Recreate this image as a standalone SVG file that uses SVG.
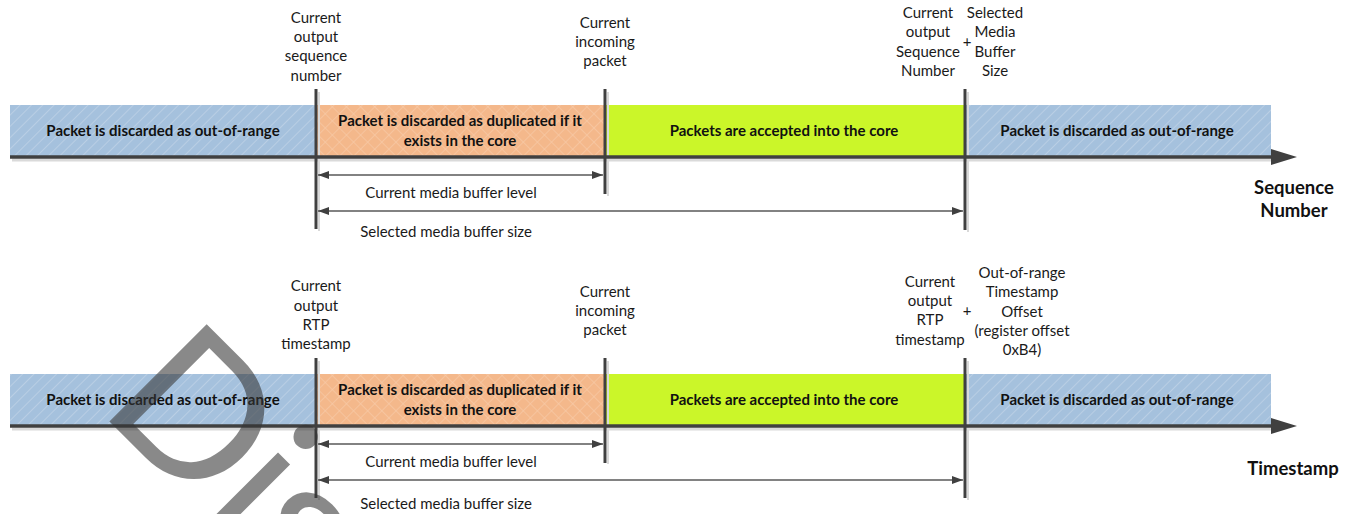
<svg xmlns="http://www.w3.org/2000/svg" width="1354" height="514" viewBox="0 0 1354 514">
<defs>
  <pattern id="hatchBlue" width="8" height="8" patternUnits="userSpaceOnUse" patternTransform="rotate(45)">
    <rect width="8" height="8" fill="#A5C1DD"/>
    <line x1="0" y1="0" x2="0" y2="8" stroke="#B9CEE4" stroke-width="2"/>
  </pattern>
  <pattern id="hatchOrange" width="10" height="10" patternUnits="userSpaceOnUse" patternTransform="rotate(45)">
    <rect width="10" height="10" fill="#F4B88B"/>
    <line x1="0" y1="0" x2="0" y2="10" stroke="#F8CBA8" stroke-width="1.3"/>
    <line x1="0" y1="0" x2="10" y2="0" stroke="#F8CBA8" stroke-width="1.3"/>
  </pattern>
  <marker id="ah" viewBox="0 0 11 8" refX="11" refY="4" markerWidth="11" markerHeight="8" markerUnits="userSpaceOnUse" orient="auto-start-reverse">
    <path d="M0,0 L11,4 L0,8 z" fill="#404040"/>
  </marker>
  <marker id="axisHead" viewBox="0 0 26 16" refX="2" refY="8" markerWidth="26" markerHeight="16" markerUnits="userSpaceOnUse" orient="auto">
    <path d="M0,0 L26,8 L0,16 z" fill="#404040"/>
  </marker>
</defs>
<style>
  .t { font-family: Lato, "Open Sans", sans-serif; font-size: 15px; fill: #1a1a1a; text-anchor: middle; }
  .b { font-family: Lato, "Open Sans", sans-serif; font-size: 15px; font-weight: bold; fill: #111; text-anchor: middle; }
  .ax { font-family: Lato, "Open Sans", sans-serif; font-size: 18.5px; font-weight: bold; fill: #111; text-anchor: middle; }
  .blue { fill: url(#hatchBlue); }
  .orange { fill: url(#hatchOrange); }
  .green { fill: #CBF629; }
  .axis { stroke: #404040; stroke-width: 3.5; fill: none; }
  .axshadow { stroke: #DADADA; stroke-width: 3; fill: none; }
  .vline { stroke: #404040; stroke-width: 3; fill: none; }
  .vshadow { stroke: #D9D9D9; stroke-width: 2; fill: none; }
  .dim { stroke: #595959; stroke-width: 1.3; fill: none; }
  .wm { font-family: Lato, "Open Sans", sans-serif; font-weight: normal; font-size: 192px; fill: #333333; fill-opacity: 0.58; }
</style>

<!-- ===== Top timeline: Sequence Number ===== -->
<g id="seq-bar-left"><rect class="blue" x="10" y="105" width="306" height="52"/><text class="b" x="163" y="136">Packet is discarded as out-of-range</text></g>
<g id="seq-bar-dup"><rect class="orange" x="316" y="105" width="289" height="52"/><text class="b" x="460" y="126">Packet is discarded as duplicated if it</text><text class="b" x="460" y="146">exists in the core</text></g>
<g id="seq-bar-accept"><rect class="green" x="605" y="105" width="360" height="52"/><text class="b" x="784" y="136">Packets are accepted into the core</text></g>
<g id="seq-bar-right"><rect class="blue" x="965" y="105" width="306" height="52"/><text class="b" x="1117" y="136">Packet is discarded as out-of-range</text></g>

<g id="seq-lbl-output"><text class="t" x="316" y="23">Current</text><text class="t" x="316" y="42">output</text><text class="t" x="316" y="61">sequence</text><text class="t" x="316" y="81">number</text></g>
<g id="seq-lbl-incoming"><text class="t" x="605" y="28">Current</text><text class="t" x="605" y="47">incoming</text><text class="t" x="605" y="66">packet</text></g>
<g id="seq-lbl-limit"><text class="t" x="928" y="18">Current</text><text class="t" x="928" y="37">output</text><text class="t" x="928" y="57">Sequence</text><text class="t" x="928" y="76">Number</text><text class="t" x="967" y="47">+</text><text class="t" x="995" y="18">Selected</text><text class="t" x="995" y="37">Media</text><text class="t" x="995" y="57">Buffer</text><text class="t" x="995" y="76">Size</text></g>
<g id="seq-dim-level-lbl"><text class="t" x="451" y="198">Current media buffer level</text></g>
<g id="seq-dim-size-lbl"><text class="t" x="446" y="237">Selected media buffer size</text></g>
<g id="seq-axis-lbl"><text class="ax" x="1294" y="194">Sequence</text><text class="ax" x="1294" y="217">Number</text></g>

<!-- ===== Bottom timeline: Timestamp ===== -->
<g id="ts-bar-left"><rect class="blue" x="10" y="374" width="306" height="52"/><text class="b" x="163" y="405">Packet is discarded as out-of-range</text></g>
<g id="ts-bar-dup"><rect class="orange" x="316" y="374" width="289" height="52"/><text class="b" x="460" y="395">Packet is discarded as duplicated if it</text><text class="b" x="460" y="415">exists in the core</text></g>
<g id="ts-bar-accept"><rect class="green" x="605" y="374" width="360" height="52"/><text class="b" x="784" y="405">Packets are accepted into the core</text></g>
<g id="ts-bar-right"><rect class="blue" x="965" y="374" width="306" height="52"/><text class="b" x="1117" y="405">Packet is discarded as out-of-range</text></g>

<g id="ts-lbl-output"><text class="t" x="316" y="291">Current</text><text class="t" x="316" y="311">output</text><text class="t" x="316" y="330">RTP</text><text class="t" x="316" y="349">timestamp</text></g>
<g id="ts-lbl-incoming"><text class="t" x="605" y="297">Current</text><text class="t" x="605" y="316">incoming</text><text class="t" x="605" y="335">packet</text></g>
<g id="ts-lbl-limit"><text class="t" x="930" y="287">Current</text><text class="t" x="930" y="306">output</text><text class="t" x="930" y="325">RTP</text><text class="t" x="930" y="345">timestamp</text><text class="t" x="967" y="316">+</text><text class="t" x="1022" y="278">Out-of-range</text><text class="t" x="1022" y="297">Timestamp</text><text class="t" x="1022" y="317">Offset</text><text class="t" x="1022" y="336">(register offset</text><text class="t" x="1022" y="355">0xB4)</text></g>
<g id="ts-dim-level-lbl"><text class="t" x="451" y="467">Current media buffer level</text></g>
<g id="ts-dim-size-lbl"><text class="t" x="446" y="509">Selected media buffer size</text></g>
<g id="ts-axis-lbl"><text class="ax" x="1293" y="475">Timestamp</text></g>

<!-- ===== Connectors ===== -->
<g id="connectors">
  <line class="axshadow" x1="12" y1="160" x2="1272" y2="160"/>
  <line class="axshadow" x1="12" y1="429" x2="1272" y2="429"/>
  <line class="vshadow" x1="319" y1="92" x2="319" y2="231"/>
  <line class="vshadow" x1="608" y1="92" x2="608" y2="196"/>
  <line class="vshadow" x1="968" y1="92" x2="968" y2="232"/>
  <line class="vshadow" x1="319" y1="361" x2="319" y2="500"/>
  <line class="vshadow" x1="608" y1="361" x2="608" y2="464"/>
  <line class="vshadow" x1="968" y1="361" x2="968" y2="500"/>
  <line class="axis" x1="10" y1="157" x2="1273" y2="157" marker-end="url(#axisHead)"/>
  <line class="axis" x1="10" y1="426" x2="1273" y2="426" marker-end="url(#axisHead)"/>
  <line class="vline" x1="316" y1="89" x2="316" y2="229"/>
  <line class="vline" x1="605" y1="89" x2="605" y2="194"/>
  <line class="vline" x1="965" y1="89" x2="965" y2="230"/>
  <line class="vline" x1="316" y1="358" x2="316" y2="498"/>
  <line class="vline" x1="605" y1="358" x2="605" y2="463"/>
  <line class="vline" x1="965" y1="358" x2="965" y2="498"/>
  <line class="dim" x1="318" y1="175" x2="603" y2="175" marker-start="url(#ah)" marker-end="url(#ah)"/>
  <line class="dim" x1="318" y1="211" x2="963" y2="211" marker-start="url(#ah)" marker-end="url(#ah)"/>
  <line class="dim" x1="318" y1="444" x2="603" y2="444" marker-start="url(#ah)" marker-end="url(#ah)"/>
  <line class="dim" x1="318" y1="480" x2="963" y2="480" marker-start="url(#ah)" marker-end="url(#ah)"/>
</g>

<!-- ===== Watermark ===== -->
<g id="watermark"><text class="wm" x="97" y="409" transform="rotate(45 97 409)">Dis</text></g>
</svg>
